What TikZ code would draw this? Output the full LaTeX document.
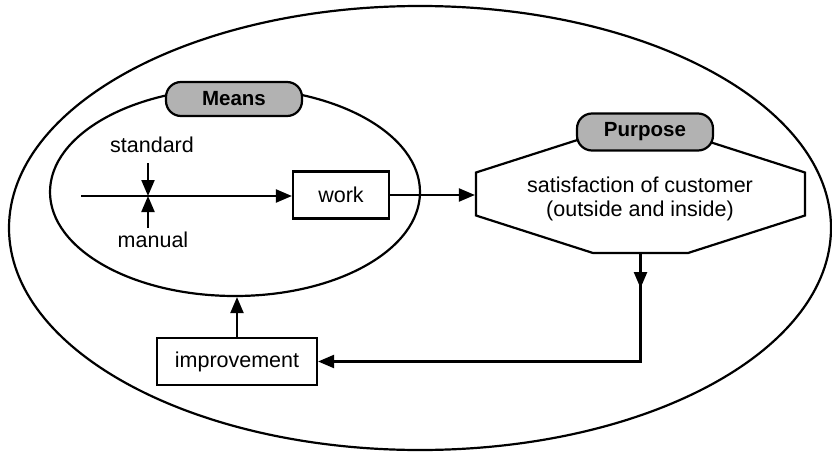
\documentclass[tikz,border=0pt]{standalone}
\usepackage{fontspec}
\setmainfont{Liberation Sans}
\usetikzlibrary{shapes.geometric,arrows.meta,calc}
\begin{document}
\begin{tikzpicture}[x=1pt,y=-1pt,
  line width=2.2pt,
  conn/.style={-{Triangle[length=16pt,width=13pt]}},
  box/.style={draw, rectangle, inner sep=0pt, font=\fontsize{21.5}{24}\selectfont},
  badge/.style={draw, rounded corners=15pt, fill=black!30, minimum width=136pt,
                inner sep=0pt, font=\bfseries\fontsize{20.5}{22}\selectfont},
  lbl/.style={inner sep=0pt, font=\fontsize{21.5}{24}\selectfont}
]
\useasboundingbox (0,0) rectangle (832,452);

% enclosing ellipse and the "means" ellipse
\node[draw, ellipse, minimum width=822pt, minimum height=444pt, inner sep=0pt] (whole) at (420,228) {};
\node[draw, ellipse, minimum width=370pt, minimum height=208pt, inner sep=0pt] (means) at (235,192) {};

% purpose octagon
\node[minimum width=329pt, minimum height=118pt, inner sep=0pt] (goal) at (640.5,194) {};
\draw[line join=miter]
  ($(goal.center)+(-164.5,-21.5)$) -- ($(goal.center)+(-47.5,-59)$) --
  ($(goal.center)+(47.5,-59)$) -- ($(goal.center)+(164.5,-21.5)$) --
  ($(goal.center)+(164.5,21.5)$) -- ($(goal.center)+(47.5,59)$) --
  ($(goal.center)+(-47.5,59)$) -- ($(goal.center)+(-164.5,21.5)$) -- cycle;
\node[lbl, align=center] (goaltext) at (640,199) {satisfaction of customer\\(outside and inside)};

% tags on top of the two regions
\node[badge, minimum height=34pt] (meanstag) at (234,99) {Means};
\node[badge, minimum height=37pt] (purposetag) at (645,132) {Purpose};

% boxes
\node[box, minimum width=96pt, minimum height=47pt] (work) at (341,195) {work};
\node[box, minimum width=160pt, minimum height=47pt] (impr) at (237,361.5) {improvement};

% labels of the inputs
\node[lbl] (std) at (152,145) {standard};
\node[lbl] (man) at (153,240) {manual};

% main flow into work
\coordinate (src) at (81,196);
\coordinate (join) at (148,196);
\coordinate (stdfoot) at (148,163);
\coordinate (manhead) at (148,228);
\draw[conn] (src) -- (src -| work.west);
\draw[conn] (stdfoot) -- (join);
\draw[conn] (manhead) -- (join);

% work to purpose
\draw[conn] (work.east) -- (work.east -| goal.west);

% feedback loop
\coordinate (turn) at (goal.south |- impr.east);
\draw[conn] (goal.south) -- (turn) -- (impr.east);
\draw[conn] (goal.south) -- ($(goal.south)+(0,34)$);
\draw[conn] (impr.north) -- (impr.north |- means.south);
\end{tikzpicture}
\end{document}
